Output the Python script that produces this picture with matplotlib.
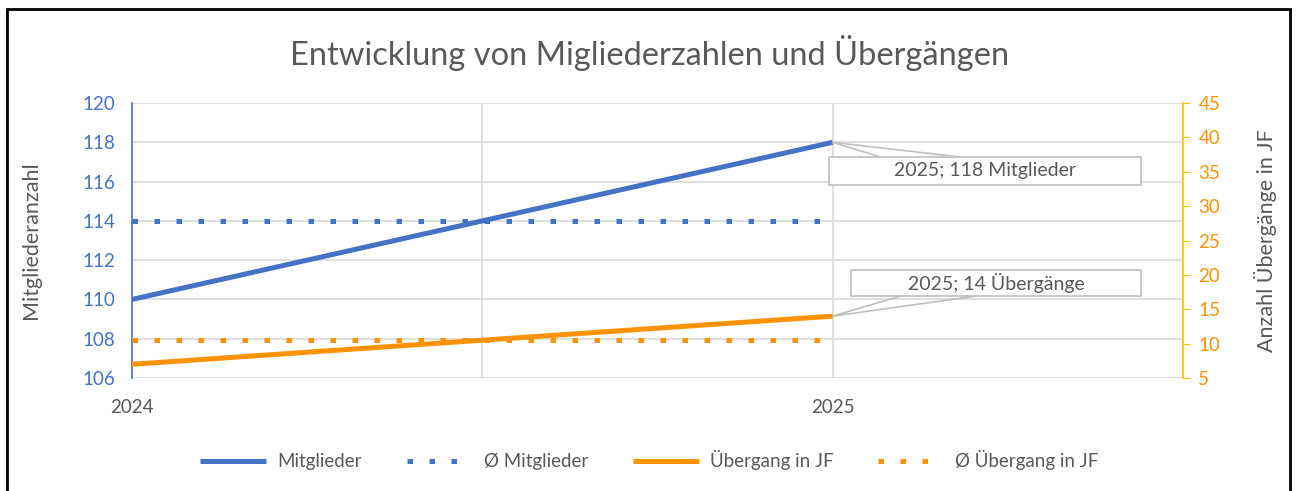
import matplotlib
matplotlib.use('Agg')
import matplotlib.pyplot as plt
from matplotlib.lines import Line2D
from matplotlib.patches import Rectangle

plt.rcParams['font.family'] = ['Lato', 'DejaVu Sans']

# data
jahre = [2024, 2025]
mitglieder = [110, 118]
uebergang = [7, 14]
avg_mitglieder = sum(mitglieder) / len(mitglieder)
avg_uebergang = sum(uebergang) / len(uebergang)

blue = '#4472C4'
orange = '#FF9200'
gold = '#FFC000'
grey = '#595959'
gridc = '#D9D9D9'

fig = plt.figure(figsize=(12.99, 4.91), dpi=100)
ax = fig.add_axes([0.1016, 0.2301, 0.8091, 0.5601])
ax2 = ax.twinx()

ax.plot(jahre, mitglieder, color=blue, lw=3.6, solid_capstyle='butt', zorder=3)
ax.plot(jahre, [avg_mitglieder] * 2, color=blue, lw=3.6, dashes=(1.1, 3.3), zorder=3)
ax2.plot(jahre, uebergang, color=orange, lw=3.6, solid_capstyle='butt', zorder=3)
ax2.plot(jahre, [avg_uebergang] * 2, color=orange, lw=3.6, dashes=(1.1, 3.3), zorder=3)

ax.set_xlim(2024, 2025.5)
ax.set_ylim(106, 120)
ax.set_yticks(range(106, 121, 2))
ax2.set_ylim(5, 45)
ax2.set_yticks(range(5, 46, 5))

ax.set_xticks([2024, 2024.5, 2025, 2025.5])
ax.set_xticklabels(['2024', '', '2025', ''])
ax.grid(True, color=gridc, lw=1.2)
ax.set_axisbelow(True)

for s in ['top', 'right', 'bottom']:
    ax.spines[s].set_visible(False)
for s in ['top', 'left', 'bottom']:
    ax2.spines[s].set_visible(False)
ax.spines['left'].set_color(blue)
ax.spines['left'].set_linewidth(1.2)
ax2.spines['right'].set_color(gold)
ax2.spines['right'].set_linewidth(1.2)

ax.tick_params(axis='y', length=0, labelcolor=blue, labelsize=13.5, pad=12)
ax.tick_params(axis='x', length=0, labelcolor=grey, labelsize=13.5, pad=15)
ax2.tick_params(axis='y', length=5, color=gold, labelcolor=orange, labelsize=13.5, pad=6)

ax.set_ylabel('Mitgliederanzahl', color=grey, fontsize=15.5, labelpad=30)
ax2.set_ylabel('Anzahl Übergänge in JF', color=grey, fontsize=15.5, labelpad=24)

fig.text(0.5, 0.892, 'Entwicklung von Migliederzahlen und Übergängen',
         ha='center', va='center', fontsize=23.5, color=grey)


def box(axis, x, y, rect, w1, w2, wy, text):
    x0, y0, x1, y1 = rect
    for wx in (w1, w2):
        axis.annotate('', xy=(x, y), xycoords='data', xytext=(wx, wy),
                      textcoords='axes fraction',
                      arrowprops=dict(arrowstyle='-', color='#BFBFBF', lw=1.2,
                                      shrinkA=0, shrinkB=0), zorder=4)
    axis.add_patch(Rectangle((x0, y0), x1 - x0, y1 - y0, transform=axis.transAxes,
                             fc='white', ec='#BFBFBF', lw=1.2, zorder=5, clip_on=False))
    axis.text((x0 + x1) / 2, (y0 + y1) / 2, text, transform=axis.transAxes,
              ha='center', va='center', fontsize=14, color=grey, zorder=6)


# callouts
box(ax, 2025, 118, (0.663, 0.702, 0.960, 0.804), 0.712, 0.787, 0.804, '2025; 118 Mitglieder')
box(ax2, 2025, 14, (0.684, 0.298, 0.960, 0.393), 0.731, 0.803, 0.298, '2025; 14 Übergänge')

handles = [
    Line2D([], [], color=blue, lw=3.6, solid_capstyle='butt'),
    Line2D([], [], color=blue, lw=3.6, dashes=(1.1, 3.3)),
    Line2D([], [], color=orange, lw=3.6, solid_capstyle='butt'),
    Line2D([], [], color=orange, lw=3.6, dashes=(1.1, 3.3)),
]
labels = ['Mitglieder', 'Ø Mitglieder', 'Übergang in JF', 'Ø Übergang in JF']
fig.legend(handles, labels, loc='center', bbox_to_anchor=(0.5, 0.063), ncol=4,
           frameon=False, fontsize=13.5, labelcolor=grey, handlelength=3.5,
           columnspacing=2.4, handletextpad=0.6)

fig.add_artist(Rectangle((7 / 1299, -0.05), 1283 / 1299, 1.05 - 9 / 491,
                         transform=fig.transFigure, fill=False, ec='black', lw=2))

fig.savefig('out.png', dpi=100)
